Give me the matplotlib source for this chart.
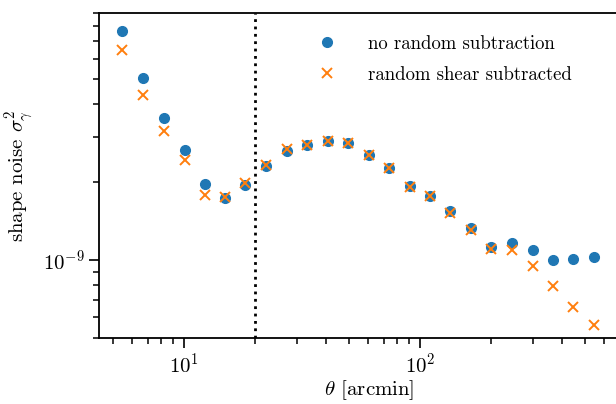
import numpy as np
import matplotlib
matplotlib.use("Agg")
import matplotlib.pyplot as plt

plt.rcParams["font.family"] = "serif"
plt.rcParams["font.serif"] = ["cmr10"]
plt.rcParams["mathtext.fontset"] = "cm"
plt.rcParams["axes.formatter.use_mathtext"] = True
plt.rcParams["font.size"] = 15

# bin centres in arcmin
theta = [5.48, 6.72, 8.23, 10.07, 12.24, 14.92, 18.18, 22.26, 27.24, 33.31,
         40.63, 49.69, 60.61, 74.13, 90.7, 110.3, 134.4, 164.5, 200.5, 245.3,
         300.2, 366.1, 446.4, 544.5]

# shape noise, no random subtraction
noise_raw = [7.66, 5.03, 3.53, 2.65, 1.966, 1.73, 1.943, 2.307, 2.63, 2.773,
             2.88, 2.84, 2.553, 2.274, 1.926, 1.767, 1.546, 1.326, 1.127, 1.163,
             1.093, 0.997, 1.009, 1.031]

# shape noise, random shear subtracted
noise_sub = [6.45, 4.34, 3.14, 2.433, 1.778, 1.757, 1.99, 2.335, 2.676, 2.77,
             2.88, 2.84, 2.55, 2.27, 1.92, 1.76, 1.515, 1.302, 1.107, 1.09,
             0.948, 0.796, 0.661, 0.561]

theta_cut = 20

noise_raw = np.array(noise_raw) * 1e-9
noise_sub = np.array(noise_sub) * 1e-9

fig = plt.figure(figsize=(6.16, 4.04), dpi=100)
ax = fig.add_axes([99 / 616, 66 / 404, 541 / 616, 325 / 404])

ax.plot(theta, noise_raw, "o", color="#1f77b4", ms=7, label="no random subtraction")
ax.plot(theta, noise_sub, "x", color="#ff7f0e", ms=7, mew=1.4, label="random shear subtracted")
ax.axvline(theta_cut, color="k", ls=":", lw=2)

ax.set_xscale("log")
ax.set_yscale("log")
ax.set_xlim(4.36, 855)
ax.set_ylim(5.0e-10, 9.0e-9)

ax.set_xlabel(r"$\theta$ [arcmin]", labelpad=1)
ax.set_ylabel(r"shape noise $\sigma_\gamma^2$", labelpad=5)

ax.tick_params(which="major", length=7, width=1.2)
ax.tick_params(which="minor", length=4.5, width=1.1)
for s in ax.spines.values():
    s.set_linewidth(1.3)

ax.legend(loc="upper left", bbox_to_anchor=(0.355, 0.985), frameon=False,
          fontsize=13.5, handletextpad=1.2, labelspacing=0.7)

fig.savefig("out.png", dpi=100)
